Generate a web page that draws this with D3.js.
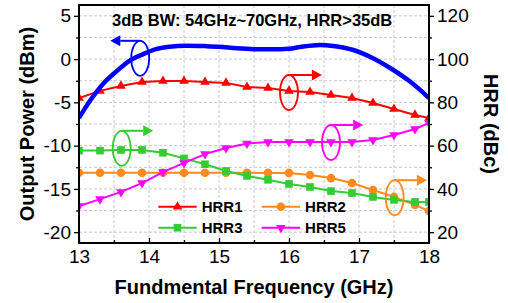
<!DOCTYPE html>
<html>
<head>
<meta charset="utf-8">
<script src="https://cdn.jsdelivr.net/npm/d3@7"></script>
<style>
  body { margin: 0; background: #fff; }
  text { font-family: Arial, "Liberation Sans", sans-serif; }
</style>
</head>
<body>
<svg id="chart" width="508" height="303"></svg>
<script>
// measured frequencies (GHz) of the HRR markers
var freq = [13.0, 13.3, 13.6, 13.9, 14.2, 14.5, 14.8, 15.1, 15.4, 15.7, 16.0, 16.3, 16.6, 16.9, 17.2, 17.5, 17.8, 18.0];
var hrr1 = [82.0, 85.3, 87.6, 89.4, 89.9, 89.9, 89.4, 89.0, 87.1, 86.6, 85.3, 84.8, 83.4, 82.0, 79.7, 76.9, 74.2, 72.8];
var hrr2 = [47.5, 47.5, 47.5, 47.5, 47.5, 47.5, 47.5, 47.5, 47.5, 47.4, 47.4, 46.4, 45.0, 42.7, 39.5, 36.3, 32.6, 29.8];
var hrr3 = [57.7, 57.7, 58.0, 58.0, 56.7, 54.1, 51.4, 48.3, 46.0, 44.2, 42.3, 40.9, 39.0, 38.1, 36.3, 34.9, 34.0, 34.0];
var hrr5 = [32.1, 35.3, 38.6, 42.7, 47.8, 52.0, 56.1, 58.9, 61.0, 61.7, 61.7, 61.7, 61.7, 61.7, 62.6, 64.9, 67.7, 70.5];

// output power curve (dBm), left axis
var poutFreq = [13.0, 13.15, 13.34, 13.53, 13.72, 13.91, 14.1, 14.29, 14.53, 14.8, 15.0, 15.25, 15.5, 15.75, 16.0, 16.16, 16.44, 16.63, 16.92, 17.2, 17.49, 17.73, 18.0];
var pout = [-6.8, -4.9, -2.9, -1.45, -0.2, 0.55, 1.15, 1.43, 1.55, 1.5, 1.43, 1.25, 1.15, 1.13, 1.2, 1.4, 1.63, 1.52, 1.05, 0.1, -1.26, -2.6, -4.5];

var xTicks = [13, 14, 15, 16, 17, 18];
var leftTicks = [-20, -15, -10, -5, 0, 5];
var rightTicks = [20, 40, 60, 80, 100, 120];

var seriesNames = ["HRR1", "HRR2", "HRR3", "HRR5"];
var seriesColors = ["#ff0000", "#ff8a1e", "#33cc33", "#ff00ff"];
var seriesSymbols = [d3.symbolTriangle, d3.symbolCircle, d3.symbolSquare, d3.symbolTriangle];
var seriesValues = [hrr1, hrr2, hrr3, hrr5];

// ellipse + arrow call-outs: which axis, centre, arrow tip
var annoAxis = ["left", "right", "right", "right", "right"];
var annoColor = ["#0000ff", "#ff0000", "#33cc33", "#ff00ff", "#ff8a1e"];
var annoX = [13.874, 16.0, 13.61, 16.6, 17.51];
var annoY = [0.09, 84.56, 58.77, 61.45, 35.94];
var annoTip = [13.447, 16.47, 14.06, 17.06, 17.97];

var margin = {left: 79, right: 79, top: 5, bottom: 60};
var width = 508, height = 303;
var svg = d3.select("#chart");

var x = d3.scaleLinear().domain([13, 18]).range([margin.left, width - margin.right]);
var yL = d3.scaleLinear().domain([-21.25, 6.25]).range([height - margin.bottom, margin.top]);
var yR = d3.scaleLinear().domain([15, 125]).range([height - margin.bottom, margin.top]);

svg.append("defs").append("clipPath").attr("id", "plotclip")
  .append("rect")
  .attr("x", x(13)).attr("y", yL(6.25))
  .attr("width", x(18) - x(13)).attr("height", yL(-21.25) - yL(6.25));

// grid
var grid = svg.append("g").attr("class", "grid");
d3.range(13.5, 18, 0.5).forEach(function(f){
  grid.append("line")
    .attr("x1", x(f)).attr("x2", x(f))
    .attr("y1", yL(6.25)).attr("y2", yL(-21.25));
});
d3.range(-20, 6.25, 2.5).forEach(function(v){
  grid.append("line")
    .attr("x1", x(13)).attr("x2", x(18))
    .attr("y1", yL(v)).attr("y2", yL(v));
});
grid.selectAll("line")
  .attr("stroke", "#c8c8c8")
  .attr("stroke-width", 1)
  .attr("stroke-dasharray", "3,2");

// axes
var fmt = function(d){ return String(d); };

svg.append("g")
  .attr("transform", "translate(0," + yL(-21.25) + ")")
  .call(d3.axisBottom(x).tickValues(xTicks).tickSizeInner(-5).tickSizeOuter(0).tickPadding(7).tickFormat(fmt));
svg.append("g")
  .attr("transform", "translate(0," + yL(-21.25) + ")")
  .call(d3.axisBottom(x).tickValues(d3.range(13.5, 18, 1)).tickSizeInner(-3).tickSizeOuter(0).tickFormat(""));

svg.append("g")
  .attr("transform", "translate(" + x(13) + ",0)")
  .call(d3.axisLeft(yL).tickValues(leftTicks).tickSizeInner(5).tickSizeOuter(0).tickPadding(3).tickFormat(fmt));
svg.append("g")
  .attr("transform", "translate(" + x(13) + ",0)")
  .call(d3.axisLeft(yL).tickValues(d3.range(-17.5, 5, 5)).tickSizeInner(3).tickSizeOuter(0).tickFormat(""));

svg.append("g")
  .attr("transform", "translate(" + x(18) + ",0)")
  .call(d3.axisRight(yR).tickValues(rightTicks).tickSizeInner(5).tickSizeOuter(0).tickPadding(3).tickFormat(fmt));
svg.append("g")
  .attr("transform", "translate(" + x(18) + ",0)")
  .call(d3.axisRight(yR).tickValues(d3.range(30, 120, 20)).tickSizeInner(3).tickSizeOuter(0).tickFormat(""));

svg.selectAll(".tick line").attr("stroke", "#000").attr("stroke-width", 1.3);
svg.selectAll(".domain").remove();
svg.selectAll(".tick text").attr("font-size", 19).attr("fill", "#000")
  .style("font-family", "Arial, 'Liberation Sans', sans-serif");

// series
var plot = svg.append("g").attr("clip-path", "url(#plotclip)");

seriesValues.forEach(function(vals, k){
  var pts = freq.map(function(f, i){ return [f, vals[i]]; });
  var line = d3.line()
    .x(function(d){ return x(d[0]); })
    .y(function(d){ return yR(d[1]); });
  plot.append("path")
    .datum(pts)
    .attr("d", line)
    .attr("fill", "none")
    .attr("stroke", seriesColors[k])
    .attr("stroke-width", 2);
  var sym = d3.symbol().type(seriesSymbols[k]).size(k === 1 || k === 2 ? 58 : 40);
  plot.selectAll(".m" + k)
    .data(pts)
    .enter()
    .append("path")
    .attr("class", "m" + k)
    .attr("d", sym)
    .attr("transform", function(d){
      var r = k === 3 ? " rotate(180)" : "";
      return "translate(" + x(d[0]) + "," + yR(d[1]) + ")" + r;
    })
    .attr("fill", seriesColors[k]);
});

// output power
var poutPts = poutFreq.map(function(f, i){ return [f, pout[i]]; });
plot.append("path")
  .datum(poutPts)
  .attr("d", d3.line()
    .x(function(d){ return x(d[0]); })
    .y(function(d){ return yL(d[1]); })
    .curve(d3.curveMonotoneX))
  .attr("fill", "none")
  .attr("stroke", "#0000ff")
  .attr("stroke-width", 4.5);

// call-outs
var anno = svg.append("g");
annoX.forEach(function(ax, i){
  var yScale = annoAxis[i] === "left" ? yL : yR;
  var cx = x(ax), cy = yScale(annoY[i]);
  var rx = 9, ry = 17.5;
  var tip = x(annoTip[i]);
  var dir = tip > cx ? 1 : -1;
  var head = 10, hw = 5.5;
  var ly = cy - ry;
  anno.append("ellipse")
    .attr("cx", cx).attr("cy", cy).attr("rx", rx).attr("ry", ry)
    .attr("fill", "none").attr("stroke", annoColor[i]).attr("stroke-width", 1.8);
  anno.append("line")
    .attr("x1", cx).attr("x2", tip - dir * head)
    .attr("y1", ly).attr("y2", ly)
    .attr("stroke", annoColor[i]).attr("stroke-width", 2);
  anno.append("path")
    .attr("d", "M" + tip + "," + ly + "L" + (tip - dir * head) + "," + (ly - hw) + "L" + (tip - dir * head) + "," + (ly + hw) + "Z")
    .attr("fill", annoColor[i]);
});

// legend
var legend = svg.append("g");
var legX = [158.3, 261.7];
var legY = [206.7, 227.7];
[0, 1, 2, 3].forEach(function(k){
  var col = k % 2, row = Math.floor(k / 2);
  var lx = legX[col], ly = legY[row];
  legend.append("line")
    .attr("x1", lx).attr("x2", lx + 38.4)
    .attr("y1", ly).attr("y2", ly)
    .attr("stroke", seriesColors[k]).attr("stroke-width", 2);
  legend.append("path")
    .attr("d", d3.symbol().type(seriesSymbols[k]).size(k === 1 || k === 2 ? 58 : 40))
    .attr("transform", "translate(" + (lx + 19.2) + "," + ly + ")" + (k === 3 ? " rotate(180)" : ""))
    .attr("fill", seriesColors[k]);
  legend.append("text")
    .attr("x", lx + 43.4).attr("y", ly + 5.5)
    .attr("font-size", 15).attr("font-weight", "bold")
    .text(seriesNames[k]);
});

// frame
svg.append("rect")
  .attr("x", x(13)).attr("y", yL(6.25))
  .attr("width", x(18) - x(13)).attr("height", yL(-21.25) - yL(6.25))
  .attr("fill", "none").attr("stroke", "#000").attr("stroke-width", 2);

// titles
svg.append("text")
  .attr("x", 112).attr("y", 26)
  .attr("font-size", 16.5).attr("font-weight", "bold")
  .text("3dB BW: 54GHz~70GHz, HRR>35dB");

svg.append("text")
  .attr("x", (x(13) + x(18)) / 2).attr("y", 294)
  .attr("text-anchor", "middle")
  .attr("font-size", 20).attr("font-weight", "bold")
  .text("Fundmental Frequency (GHz)");

svg.append("text")
  .attr("transform", "translate(34," + (yL(-21.25) + yL(6.25)) / 2 + ") rotate(-90)")
  .attr("text-anchor", "middle")
  .attr("font-size", 20).attr("font-weight", "bold")
  .text("Output Power (dBm)");

svg.append("text")
  .attr("transform", "translate(484," + (yL(-21.25) + yL(6.25)) / 2 + ") rotate(90)")
  .attr("text-anchor", "middle")
  .attr("font-size", 20).attr("font-weight", "bold")
  .text("HRR (dBc)");
</script>
</body>
</html>
